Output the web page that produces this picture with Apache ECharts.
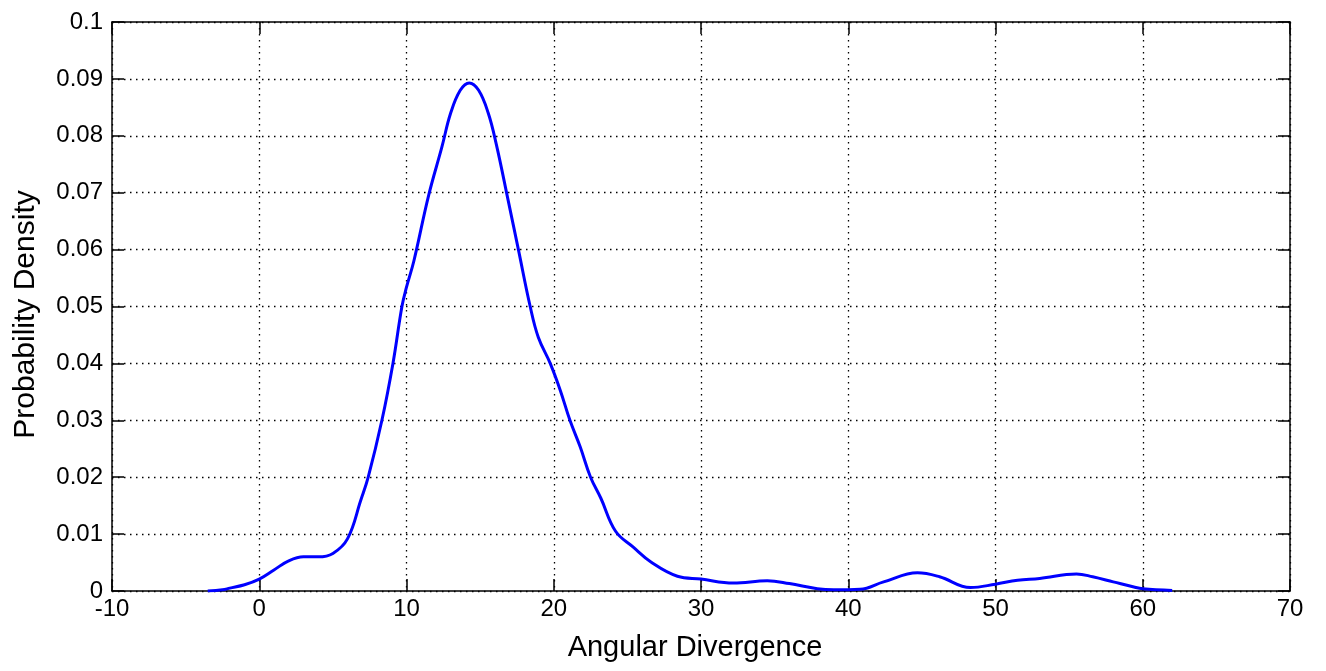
<!DOCTYPE html>
<html>
<head>
<meta charset="utf-8">
<title>Probability Density</title>
<script src="https://cdn.jsdelivr.net/npm/echarts@6/dist/echarts.min.js"></script>
<style>
  html, body { margin: 0; padding: 0; background: #fff; }
  #main { width: 1326px; height: 671px; }
</style>
</head>
<body>
<div id="main"></div>
<script>
// angular divergence (x) and density (y)
var xValues = [
  -3.5, -2.5, -2, -1, 0, 1, 2, 3, 4, 5, 6, 6.9, 7.4, 8.33, 9.08, 9.69, 10.0,
  10.5, 11.5, 12.4, 13, 13.65, 14.26, 14.9, 15.55, 16.1, 16.9, 17.6,
  18.4, 18.95, 19.76, 20.44, 21.1, 21.8, 22.5, 23.2, 24.2, 25.4, 26.6, 28.4,
  30, 32.2, 34.5, 36, 37.9, 39, 40.8, 42.4, 44.7, 46.2, 48.3, 50, 51.5, 53,
  55.5, 56.6, 58, 59.4, 60, 62
];
var densityValues = [
  0, 0.0002, 0.0005, 0.0011, 0.0021, 0.0037, 0.0053, 0.006, 0.006, 0.0066, 0.0092, 0.016, 0.020, 0.030, 0.040, 0.050, 0.0534,
  0.058, 0.0695, 0.078, 0.084, 0.088, 0.0893, 0.088, 0.084, 0.0785, 0.0687, 0.060,
  0.050, 0.0446, 0.040, 0.0353, 0.030, 0.0253, 0.020, 0.0163, 0.0105, 0.0077, 0.0051, 0.0026,
  0.0021, 0.0014, 0.0018, 0.0013, 0.0004, 0.0002, 0.0003, 0.0016, 0.0032, 0.0025, 0.0006, 0.0012, 0.0019, 0.0022,
  0.003, 0.0025, 0.0016, 0.0007, 0.0004, 0.0001
];

var font = "'Liberation Sans', Arial, Helvetica, sans-serif";

var points = xValues.map(function (x, i) {
  return [x, densityValues[i]];
});

var gridDots = {
  show: true,
  lineStyle: { color: "#000", width: 1.3, type: [1.5, 4.5] }
};
var frameLine = { show: true, onZero: false, lineStyle: { color: "#000", width: 1.5 } };
var inTicks = { show: true, inside: true, length: 12, lineStyle: { color: "#000", width: 1.5 } };

var chart = echarts.init(document.getElementById("main"));
chart.setOption({
  animation: false,
  grid: { left: 112, right: 36, top: 22, bottom: 80 },
  xAxis: [
    {
      type: "value",
      min: -10,
      max: 70,
      interval: 10,
      position: "bottom",
      name: "Angular Divergence",
      nameLocation: "middle",
      nameGap: 42,
      nameTextStyle: { color: "#000", fontSize: 29, fontFamily: font, padding: [0, 12, 0, 0] },
      axisLine: frameLine,
      axisTick: inTicks,
      axisLabel: { color: "#000", fontSize: 24, fontFamily: font, margin: 6 },
      splitLine: gridDots
    },
    {
      type: "value",
      min: -10,
      max: 70,
      interval: 10,
      position: "top",
      axisLine: frameLine,
      axisTick: inTicks,
      axisLabel: { show: false },
      splitLine: { show: false }
    }
  ],
  yAxis: [
    {
      type: "value",
      min: 0,
      max: 0.1,
      interval: 0.01,
      position: "left",
      name: "Probability Density",
      nameLocation: "middle",
      nameGap: 71,
      nameTextStyle: { color: "#000", fontSize: 30, fontFamily: font, padding: [0, 16, 0, 0] },
      axisLine: frameLine,
      axisTick: inTicks,
      axisLabel: {
        color: "#000", fontSize: 24, fontFamily: font, margin: 9,
        formatter: function (v) { return String(Math.round(v * 100) / 100); }
      },
      splitLine: gridDots
    },
    {
      type: "value",
      min: 0,
      max: 0.1,
      interval: 0.01,
      position: "right",
      axisLine: frameLine,
      axisTick: inTicks,
      axisLabel: { show: false },
      splitLine: { show: false }
    }
  ],
  series: [
    {
      type: "line",
      data: points,
      smooth: 0.4,
      symbol: "none",
      lineStyle: { color: "#0000ff", width: 3 }
    }
  ]
});
</script>
</body>
</html>
